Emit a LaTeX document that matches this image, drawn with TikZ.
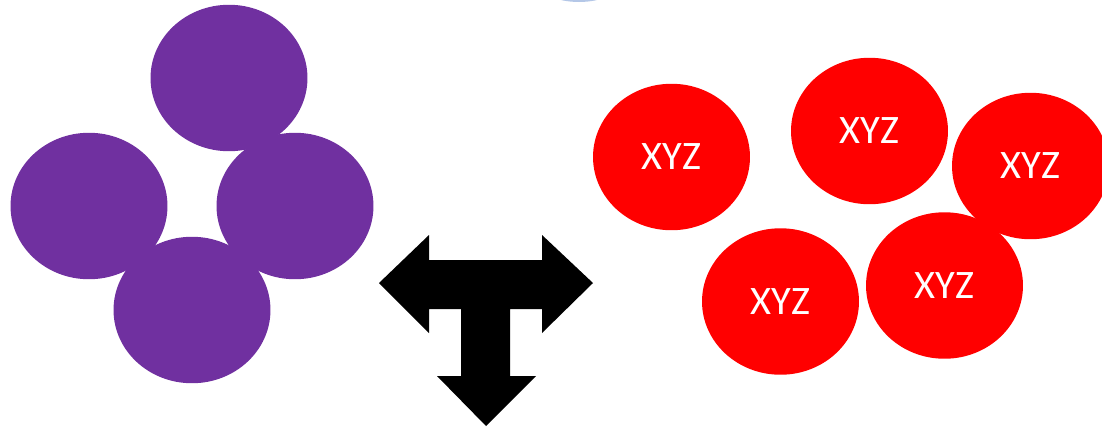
\documentclass[tikz,border=0pt]{standalone}
\usepackage{fontspec}
\setmainfont{Carlito}
\usetikzlibrary{shapes.geometric}
\definecolor{grape}{HTML}{7030A0}
\definecolor{paleblue}{HTML}{B4C7E7}

\begin{document}
\begin{tikzpicture}[x=0.02cm, y=-0.02cm,
    blob/.style={ellipse, inner sep=0pt, minimum width=3.14cm, minimum height=2.93cm},
    cell/.style={blob, fill=grape},
    xyz/.style={blob, fill=red, text=white, font=\fontsize{23}{27}\selectfont}]
      \useasboundingbox (0, 0) rectangle (1102, 430);

      % partly hidden shape at the top edge
      \fill[paleblue] (579, -71) ellipse [x radius=78, y radius=73];

      \node[cell] (top) at (229, 78) {};
      \node[cell] (left) at (89, 206) {};
      \node[cell] (right) at (295, 206) {};
      \node[cell] (bottom) at (192, 310) {};

      \fill (379, 283) -- (429, 235) -- (429, 260) -- (542, 260) -- (542, 235)
        -- (593, 283) -- (542, 333) -- (542, 309) -- (510, 309) -- (510, 376)
        -- (536, 376) -- (486, 426) -- (437, 376) -- (461, 376) -- (461, 309)
        -- (429, 309) -- (429, 333) -- cycle;

      \node[xyz] (x1) at (671.5, 157) {XYZ};
      \node[xyz] (x2) at (869.5, 131) {XYZ};
      \node[xyz] (x3) at (944.5, 285.5) {XYZ};
      \node[xyz] (x4) at (1030.5, 166) {XYZ};
      \node[xyz] (x5) at (780.5, 301.5) {XYZ};
    \end{tikzpicture}
\end{document}
